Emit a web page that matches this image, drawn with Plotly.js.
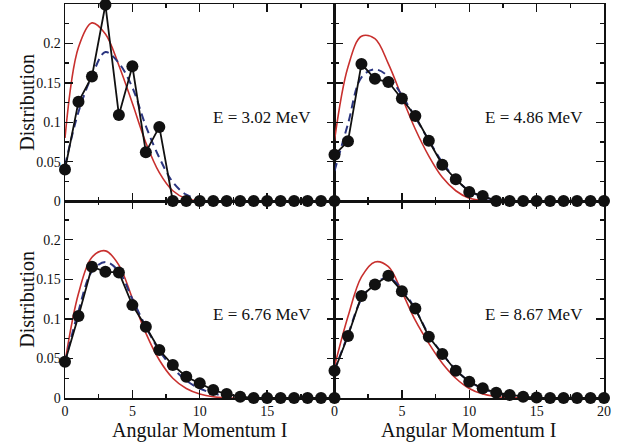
<!DOCTYPE html>
<html>
<head>
<meta charset="utf-8">
<script src="https://cdn.plot.ly/plotly-3.0.1.min.js"></script>
<style>
  html, body { margin: 0; padding: 0; background: #ffffff; }
  #chart { width: 631px; height: 442px; }
</style>
</head>
<body>
<div id="chart"></div>
<script>
// Angular momentum values
const spinI = [0,1,2,3,4,5,6,7,8,9,10,11,12,13,14,15,16,17,18,19,20];

// E = 3.02 MeV
const measured302 = [0.040,0.126,0.158,0.249,0.109,0.171,0.062,0.094,0,0,0,0,0,0,0,0,0,0,0,0,0];
const modelA302   = [0.080,0.195,0.226,0.212,0.172,0.124,0.074,0.036,0.013,0.003,0.0005,0,0,0,0,0,0,0,0,0,0];
const modelB302   = [0.045,0.113,0.159,0.189,0.175,0.144,0.095,0.055,0.024,0.008,0.002,0,0,0,0,0,0,0,0,0,0];

// E = 4.86 MeV
const measured486 = [0.0587,0.0757,0.174,0.155,0.151,0.130,0.108,0.0765,0.046,0.0276,0.0115,0.0064,0,0,0,0,0,0,0,0,0];
const modelA486   = [0.077,0.170,0.209,0.206,0.174,0.132,0.091,0.057,0.030,0.013,0.0035,0.0008,0,0,0,0,0,0,0,0,0];
const modelB486   = [0.038,0.098,0.157,0.167,0.158,0.134,0.106,0.077,0.049,0.028,0.013,0.005,0.0015,0,0,0,0,0,0,0,0];

// E = 6.76 MeV
const measured676 = [0.0458,0.1035,0.166,0.1595,0.1587,0.1174,0.090,0.0606,0.0417,0.0269,0.0185,0.0101,0.005,0.0017,0,0,0,0,0,0,0];
const modelA676   = [0.045,0.132,0.178,0.186,0.168,0.126,0.082,0.048,0.025,0.012,0.005,0.0015,0.0003,0,0,0,0,0,0,0,0];
const modelB676   = [0.045,0.110,0.160,0.172,0.160,0.125,0.090,0.060,0.038,0.022,0.012,0.006,0.002,0.0005,0,0,0,0,0,0,0];

// E = 8.67 MeV
const measured867 = [0.0345,0.0783,0.129,0.1435,0.1545,0.135,0.113,0.0774,0.0556,0.0345,0.0206,0.0122,0.0067,0.0038,0.0017,0.0006,0,0,0,0,0];
const modelA867   = [0.040,0.103,0.153,0.172,0.166,0.134,0.098,0.069,0.044,0.025,0.012,0.005,0.002,0.0005,0,0,0,0,0,0,0];
const modelB867   = [0.035,0.080,0.125,0.145,0.152,0.138,0.112,0.080,0.056,0.036,0.021,0.012,0.006,0.003,0.001,0,0,0,0,0,0];

const energyLabels = ['E = 3.02 MeV', 'E = 4.86 MeV', 'E = 6.76 MeV', 'E = 8.67 MeV'];
const xTickVals = [0,5,10,15,20];
const xTickLeft = ['0','5','10','15',''];
const xTickRight = ['0','5','10','15','20'];
const yTickVals = [0,0.05,0.1,0.15,0.2,0.25];

const panels = [
  {meas: measured302, a: modelA302, b: modelB302, xa: 'x',  ya: 'y'},
  {meas: measured486, a: modelA486, b: modelB486, xa: 'x2', ya: 'y2'},
  {meas: measured676, a: modelA676, b: modelB676, xa: 'x3', ya: 'y3'},
  {meas: measured867, a: modelA867, b: modelB867, xa: 'x4', ya: 'y4'}
];

const RED = '#c8302e';
const NAVY = '#2b3580';
const SERIF = '"Liberation Serif", "Times New Roman", Times, serif';

const traces = [];
panels.forEach(p => {
  traces.push({
    x: spinI, y: p.a, xaxis: p.xa, yaxis: p.ya, type: 'scatter', mode: 'lines',
    line: {color: RED, width: 1.6, shape: 'spline', smoothing: 1}, hoverinfo: 'skip', cliponaxis: false
  });
  traces.push({
    x: spinI, y: p.b, xaxis: p.xa, yaxis: p.ya, type: 'scatter', mode: 'lines',
    line: {color: NAVY, width: 2, dash: '8px,5px', shape: 'spline', smoothing: 1}, hoverinfo: 'skip', cliponaxis: false
  });
  traces.push({
    x: spinI, y: p.meas, xaxis: p.xa, yaxis: p.ya, type: 'scatter', mode: 'lines+markers',
    line: {color: '#111111', width: 1.8},
    marker: {color: '#111111', size: 12},
    cliponaxis: false
  });
});

function xAxis(domain, anchor, labels, show) {
  return {
    domain: domain, anchor: anchor, range: [0, 20],
    tickmode: 'array', tickvals: xTickVals, ticktext: labels, showticklabels: show,
    ticks: 'inside', ticklen: 8, tickwidth: 1.4, tickcolor: '#111',
    minor: {tickmode: 'linear', tick0: 0, dtick: 2.5, ticks: 'inside', ticklen: 4, tickwidth: 1.4, tickcolor: '#111'},
    showline: true, linecolor: '#111', linewidth: 1.5, mirror: 'ticks',
    showgrid: false, zeroline: false, fixedrange: true,
    tickfont: {family: SERIF, size: 14, color: '#111'}
  };
}
function yAxis(domain, anchor, top, show) {
  return {
    domain: domain, anchor: anchor, range: [0, top],
    tickmode: 'array', tickvals: yTickVals, showticklabels: show,
    ticks: 'inside', ticklen: 8, tickwidth: 1.4, tickcolor: '#111',
    minor: {tickmode: 'linear', tick0: 0, dtick: 0.025, ticks: 'inside', ticklen: 4, tickwidth: 1.4, tickcolor: '#111'},
    showline: true, linecolor: '#111', linewidth: 1.5, mirror: 'ticks',
    showgrid: false, zeroline: false, fixedrange: true,
    tickfont: {family: SERIF, size: 14, color: '#111'}
  };
}

const annotations = [];
[['x','y'],['x2','y2'],['x3','y3'],['x4','y4']].forEach((ax, k) => {
  annotations.push({
    text: energyLabels[k], xref: ax[0], yref: ax[1], x: k % 2 === 0 ? 14.6 : 14.8, y: 0.106,
    xanchor: 'center', yanchor: 'middle',
    showarrow: false, font: {family: SERIF, size: 17, color: '#111'}
  });
});
// axis titles
[0.75, 0.25].forEach(yc => {
  annotations.push({
    text: 'Distribution', xref: 'paper', yref: 'paper', x: -0.072, y: yc, textangle: -90,
    xanchor: 'center', yanchor: 'middle',
    showarrow: false, font: {family: SERIF, size: 20, color: '#111'}
  });
});
[0.25, 0.75].forEach(xc => {
  annotations.push({
    text: 'Angular Momentum I', xref: 'paper', yref: 'paper', x: xc, y: -0.083,
    xanchor: 'center', yanchor: 'middle',
    showarrow: false, font: {family: SERIF, size: 20, color: '#111'}
  });
});

const layout = {
  width: 631, height: 442,
  margin: {l: 65, r: 27, t: 4, b: 44},
  paper_bgcolor: '#ffffff', plot_bgcolor: '#ffffff',
  showlegend: false,
  xaxis:  xAxis([0, 0.5], 'y', xTickLeft, false),
  xaxis2: xAxis([0.5, 1], 'y2', xTickRight, false),
  xaxis3: xAxis([0, 0.5], 'y3', xTickLeft, true),
  xaxis4: xAxis([0.5, 1], 'y4', xTickRight, true),
  yaxis:  yAxis([0.5, 1], 'x', 0.25, true),
  yaxis2: yAxis([0.5, 1], 'x2', 0.25, false),
  yaxis3: yAxis([0, 0.5], 'x3', 0.249, true),
  yaxis4: yAxis([0, 0.5], 'x4', 0.249, false),
  annotations: annotations
};

Plotly.newPlot('chart', traces, layout, {displayModeBar: false, staticPlot: true});
</script>
</body>
</html>
